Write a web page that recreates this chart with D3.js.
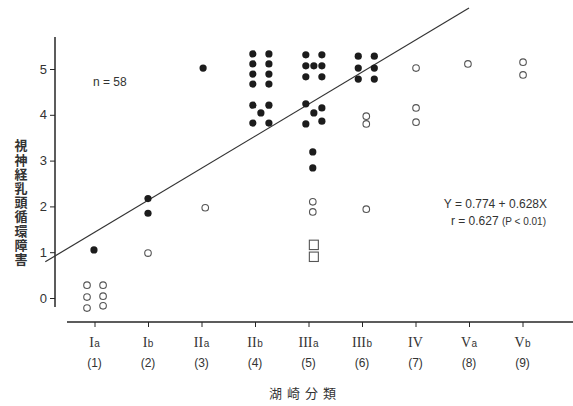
<!DOCTYPE html>
<html>
<head>
<meta charset="utf-8">
<script src="https://cdn.jsdelivr.net/npm/d3@7"></script>
<style>
  body { margin: 0; background: #fff; }
  svg { display: block; }
</style>
</head>
<body>
<svg width="573" height="406"></svg>
<script>
// category ticks along the bottom
var romanLabels = ['I', 'I', 'II', 'II', 'III', 'III', 'IV', 'V', 'V'];
var subLabels = ['a', 'b', 'a', 'b', 'a', 'b', '', 'a', 'b'];
var numLabels = ['(1)', '(2)', '(3)', '(4)', '(5)', '(6)', '(7)', '(8)', '(9)'];
var yTicks = [0, 1, 2, 3, 4, 5];

// filled circles [category position, value]
var filledPts = [
  [0.99, 1.05],
  [2.0, 2.17], [2.0, 1.85],
  [3.03, 5.02],
  [3.96, 5.33], [4.26, 5.33], [3.96, 5.11], [4.26, 5.11],
  [3.96, 4.89], [4.26, 4.89], [3.96, 4.67], [4.26, 4.67],
  [3.96, 4.21], [4.26, 4.21], [4.11, 4.04], [3.96, 3.82], [4.26, 3.82],
  [4.95, 5.31], [5.25, 5.31], [4.95, 5.07], [5.10, 5.07], [5.25, 5.07],
  [4.95, 4.83], [5.25, 4.83],
  [4.95, 4.24], [5.25, 4.15], [5.10, 4.04], [5.25, 3.86], [4.95, 3.80],
  [5.08, 3.19], [5.08, 2.84],
  [5.93, 5.28], [6.23, 5.28], [5.93, 5.02], [6.23, 5.02], [5.93, 4.78], [6.23, 4.78]
];

// open circles
var openPts = [
  [0.86, 0.28], [0.86, 0.02], [0.86, -0.22],
  [1.16, 0.28], [1.16, 0.04], [1.16, -0.17],
  [2.0, 0.98],
  [3.07, 1.97],
  [5.08, 2.10], [5.08, 1.88],
  [6.08, 3.97], [6.08, 3.80], [6.08, 1.94],
  [7.01, 5.02], [7.01, 4.15], [7.01, 3.84],
  [7.98, 5.11],
  [9.01, 5.15], [9.01, 4.87]
];

// open squares
var squarePts = [[5.1, 1.16], [5.1, 0.90]];

// regression line as drawn
var fitLine = [[0.08, 0.79], [8.0, 6.33]];

var svg = d3.select('svg');
var ink = '#262626';

var xScale = d3.scaleLinear().domain([1, 9]).range([94.5, 522.5]);
var yScale = d3.scaleLinear().domain([0, 5]).range([298, 69]);

var axisX = 55, axisY = 322;

// y axis
var yAxis = d3.axisLeft(yScale).tickValues(yTicks).tickSize(5).tickSizeOuter(0)
  .tickFormat(d3.format('d'));
var gy = svg.append('g').attr('transform', 'translate(' + axisX + ',0)').call(yAxis);
gy.select('.domain').remove();
gy.selectAll('line').attr('stroke', ink);
gy.selectAll('text').attr('font-family', 'Liberation Sans, Arial, sans-serif')
  .attr('font-size', 13).attr('fill', '#333').attr('x', -8);
svg.append('line').attr('x1', axisX).attr('x2', axisX).attr('y1', 37).attr('y2', 307)
  .attr('stroke', ink).attr('stroke-width', 1.5);

// x axis
var xAxis = d3.axisBottom(xScale).tickValues(d3.range(1, 10)).tickSize(5).tickFormat('');
var gx = svg.append('g').attr('transform', 'translate(0,' + axisY + ')').call(xAxis);
gx.select('.domain').remove();
gx.selectAll('line').attr('stroke', ink);
svg.append('line').attr('x1', 67).attr('x2', 573).attr('y1', axisY).attr('y2', axisY)
  .attr('stroke', ink).attr('stroke-width', 1.5);

// category labels
romanLabels.forEach(function(r, i){
  var t = svg.append('text')
    .attr('x', xScale(i + 1)).attr('y', 347)
    .attr('text-anchor', 'middle')
    .attr('fill', '#333');
  t.append('tspan').text(r)
    .attr('font-family', 'Liberation Serif, Times New Roman, serif')
    .attr('font-size', 14);
  if(subLabels[i]){
    t.append('tspan').text(subLabels[i])
      .attr('font-family', 'Liberation Sans, Arial, sans-serif')
      .attr('font-size', 10).attr('dx', 0.5);
  }
  svg.append('text')
    .attr('x', xScale(i + 1)).attr('y', 367)
    .attr('text-anchor', 'middle')
    .attr('font-family', 'Liberation Sans, Arial, sans-serif')
    .attr('font-size', 12).attr('fill', '#333')
    .text(numLabels[i]);
});

// axis titles
svg.append('text')
  .attr('x', 305).attr('y', 398).attr('text-anchor', 'middle')
  .attr('font-family', 'Noto Sans CJK JP, sans-serif')
  .attr('font-size', 13).attr('fill', '#333')
  .attr('letter-spacing', 5)
  .text('湖崎分類');

// vertical title, one text element
svg.append('text')
  .attr('x', 21).attr('y', 139)
  .attr('writing-mode', 'tb')
  .style('writing-mode', 'vertical-rl')
  .attr('font-family', 'Noto Sans CJK JP, sans-serif')
  .attr('font-size', 13).attr('font-weight', 'bold').attr('fill', '#333')
  .attr('letter-spacing', 1.2)
  .text('視神経乳頭循環障害');

// regression line
svg.append('line')
  .attr('x1', xScale(fitLine[0][0])).attr('y1', yScale(fitLine[0][1]))
  .attr('x2', xScale(fitLine[1][0])).attr('y2', yScale(fitLine[1][1]))
  .attr('stroke', '#333').attr('stroke-width', 1.2);

// points
svg.selectAll('circle.filled')
  .data(filledPts)
  .enter()
  .append('circle')
  .attr('class', 'filled')
  .attr('cx', function(d){ return xScale(d[0]); })
  .attr('cy', function(d){ return yScale(d[1]); })
  .attr('r', 3.6)
  .attr('fill', '#1c1c1c');

svg.selectAll('circle.open')
  .data(openPts)
  .enter()
  .append('circle')
  .attr('class', 'open')
  .attr('cx', function(d){ return xScale(d[0]); })
  .attr('cy', function(d){ return yScale(d[1]); })
  .attr('r', 3.3)
  .attr('fill', '#fff')
  .attr('stroke', '#555')
  .attr('stroke-width', 1.1);

svg.selectAll('rect.sq')
  .data(squarePts)
  .enter()
  .append('rect')
  .attr('class', 'sq')
  .attr('x', function(d){ return xScale(d[0]) - 4.5; })
  .attr('y', function(d){ return yScale(d[1]) - 4.7; })
  .attr('width', 9).attr('height', 9.4)
  .attr('fill', '#fff')
  .attr('stroke', '#555')
  .attr('stroke-width', 1.1);

// annotations
svg.append('text')
  .attr('x', 93).attr('y', 86)
  .attr('font-family', 'Liberation Sans, Arial, sans-serif')
  .attr('font-size', 12).attr('fill', '#333')
  .text('n = 58');

svg.append('text')
  .attr('x', 547).attr('y', 208).attr('text-anchor', 'end')
  .attr('font-family', 'Liberation Sans, Arial, sans-serif')
  .attr('font-size', 12).attr('fill', '#333')
  .text('Y = 0.774 + 0.628X');

var rt = svg.append('text')
  .attr('x', 546).attr('y', 225).attr('text-anchor', 'end')
  .attr('font-family', 'Liberation Sans, Arial, sans-serif')
  .attr('fill', '#333');
rt.append('tspan').attr('font-size', 12).text('r = 0.627 ');
rt.append('tspan').attr('font-size', 10).text('(P < 0.01)');
</script>
</body>
</html>
